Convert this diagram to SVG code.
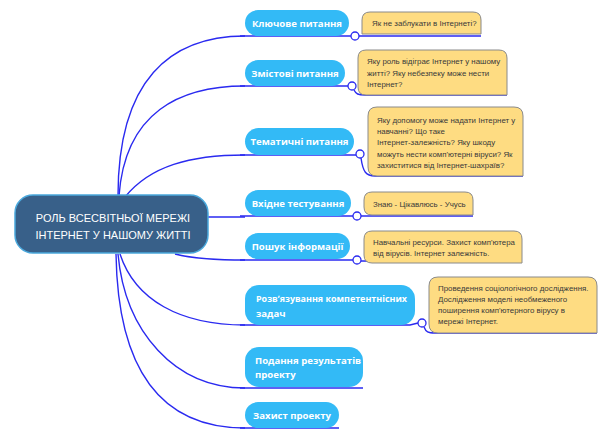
<svg xmlns="http://www.w3.org/2000/svg" width="610" height="433" viewBox="0 0 610 433">
<style>
.pill{fill:#33baf6;}
.pt{font-family:"Open Sans","Liberation Sans",sans-serif;font-weight:bold;font-size:9.6px;fill:#ffffff;}
.call{fill:#fedc82;stroke:#8a8a8a;stroke-width:1;}
.ct{font-family:"Liberation Sans",Arial,sans-serif;font-size:7.9px;fill:#3a3a3a;}
.con{fill:none;stroke:#2a2af0;stroke-width:1.4;}
.dot{fill:#ffffff;stroke:#2a2af0;stroke-width:1.3;}
.mt{font-family:"Liberation Sans",Arial,sans-serif;font-size:11px;fill:#ffffff;text-anchor:middle;}
</style>
<rect width="610" height="433" fill="#ffffff"/>
<g id="connectors">
<path class="con" d="M118,196 C118,80 170,36 245,36"/>
<path class="con" d="M119,196 C125,112 180,86 245,86"/>
<path class="con" d="M125,197 C150,166 190,155 245,155"/>
<path class="con" d="M208,217 L245,217"/>
<path class="con" d="M175,254 C195,259 220,260 245,260"/>
<path class="con" d="M120,254 C135,300 180,325 245,325"/>
<path class="con" d="M118,254 C125,332 175,388 245,388"/>
<path class="con" d="M116,254 C118,382 170,428 245,428"/>
<path class="con" d="M240,36 L351,36"/>
<path class="con" d="M240,86 L348,86"/>
<path class="con" d="M240,155 L356,155"/>
<path class="con" d="M240,216 L353,216"/>
<path class="con" d="M240,260 L353,260"/>
<path class="con" d="M240,325 L410,325 L418,323"/>
<path class="con" d="M240,388 L363,388"/>
<path class="con" d="M240,428 L339,428"/>
<path class="con" d="M359,36 L481,36"/>
<path class="con" d="M354,90 C356,94 358,95 365,95 L507,95"/>
<path class="con" d="M361,158 C363,172 366,176 375,176 L523,176"/>
<path class="con" d="M361,216 L473,216"/>
<path class="con" d="M361,261 L522,262"/>
<path class="con" d="M424,327 C426,332 428,333 435,333 L597,333"/>
<circle class="dot" cx="355" cy="36" r="4"/>
<circle class="dot" cx="352" cy="86" r="4"/>
<circle class="dot" cx="360" cy="154" r="4"/>
<circle class="dot" cx="357" cy="216" r="4"/>
<circle class="dot" cx="357" cy="260" r="4"/>
<circle class="dot" cx="422" cy="323" r="4"/>
</g>
<g id="center">
<rect x="15" y="195" width="193" height="58" rx="18" fill="#386089" stroke="#4aa8dc" stroke-width="1.5"/>
<text class="mt" x="113" y="222">РОЛЬ ВСЕСВІТНЬОЇ МЕРЕЖІ</text>
<text class="mt" x="113" y="239">ІНТЕРНЕТ У НАШОМУ ЖИТТІ</text>
</g>
<g id="n1">
<rect class="pill" x="245" y="10" width="104" height="26" rx="13"/>
<text class="pt" x="297" y="27" text-anchor="middle">Ключове питання</text>
</g>
<g id="n2">
<rect class="pill" x="245" y="60" width="100" height="26" rx="13"/>
<text class="pt" x="295" y="77" text-anchor="middle">Змістові питання</text>
</g>
<g id="n3">
<rect class="pill" x="245" y="128" width="109" height="27" rx="13.5"/>
<text class="pt" x="299.5" y="145" text-anchor="middle">Тематичні питання</text>
</g>
<g id="n4">
<rect class="pill" x="245" y="190" width="106" height="26" rx="13"/>
<text class="pt" x="298" y="207" text-anchor="middle">Вхідне тестування</text>
</g>
<g id="n5">
<rect class="pill" x="245" y="233" width="105" height="26" rx="13"/>
<text class="pt" x="297.5" y="250" text-anchor="middle">Пошук інформації</text>
</g>
<g id="n6">
<rect class="pill" x="245" y="285" width="170" height="40" rx="14"/>
<text class="pt" x="256" y="302" textLength="151" lengthAdjust="spacingAndGlyphs">Розвʼязування компетентнісних</text>
<text class="pt" x="256" y="317">задач</text>
</g>
<g id="n7">
<rect class="pill" x="245" y="347" width="118" height="40" rx="14"/>
<text class="pt" x="255" y="364">Подання результатів</text>
<text class="pt" x="255" y="378">проекту</text>
</g>
<g id="n8">
<rect class="pill" x="245" y="402" width="94" height="26" rx="13"/>
<text class="pt" x="292" y="419" text-anchor="middle">Захист проекту</text>
</g>
<g id="c1">
<path class="call" d="M362,34 L362,20 Q362,12 370,12 L473,12 Q481,12 481,20 L481,34 Z"/>
<text class="ct" x="372" y="26">Як не заблукати в Інтернеті?</text>
</g>
<g id="c2">
<path class="call" d="M366,95 Q358,95 358,87 L358,58 Q358,50 366,50 L499,50 Q507,50 507,58 L507,95 Z"/>
<text class="ct" x="367" y="64">Яку роль відіграє Інтернет у нашому</text>
<text class="ct" x="367" y="76">житті? Яку небезпеку може нести</text>
<text class="ct" x="367" y="87">Інтернет?</text>
</g>
<g id="c3">
<path class="call" d="M377,176 Q368,176 368,167 L368,116 Q368,107 377,107 L514,107 Q523,107 523,116 L523,176 Z"/>
<text class="ct" x="377" y="123">Яку допомогу може надати Інтернет у</text>
<text class="ct" x="377" y="134">навчанні? Що таке</text>
<text class="ct" x="377" y="145">Інтернет-залежність? Яку шкоду</text>
<text class="ct" x="377" y="157">можуть нести комп'ютерні віруси? Як</text>
<text class="ct" x="377" y="168">захиститися від Інтернет-шахраїв?</text>
</g>
<g id="c4">
<path class="call" d="M372,215 Q364,215 364,207 L364,200 Q364,192 372,192 L465,192 Q473,192 473,200 L473,215 Z"/>
<text class="ct" x="373" y="207">Знаю - Цікавлюсь - Учусь</text>
</g>
<g id="c5">
<path class="call" d="M372,263 Q364,263 364,255 L364,239 Q364,231 372,231 L514,231 Q522,231 522,239 L522,263 Z"/>
<text class="ct" x="373" y="245">Навчальні ресурси. Захист комп'ютера</text>
<text class="ct" x="373" y="256">від вірусів. Інтернет залежність.</text>
</g>
<g id="c6">
<path class="call" d="M438,333 Q429,333 429,324 L429,286 Q429,277 438,277 L588,277 Q597,277 597,286 L597,333 Z"/>
<text class="ct" x="438" y="291">Проведення соціологічного дослідження.</text>
<text class="ct" x="438" y="302">Дослідження моделі необмеженого</text>
<text class="ct" x="438" y="313">поширення комп'ютерного вірусу в</text>
<text class="ct" x="438" y="324">мережі Інтернет.</text>
</g>
</svg>
